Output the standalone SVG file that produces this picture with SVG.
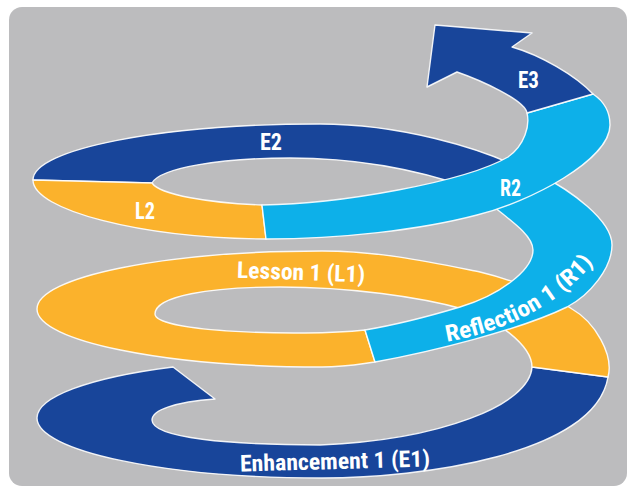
<svg xmlns="http://www.w3.org/2000/svg" width="635" height="495" viewBox="0 0 635 495">
<style>
.band{stroke:#ffffff;stroke-width:1.4;stroke-linejoin:round;stroke-opacity:0.9}
.e{fill:#18459a}
.l{fill:#fbb22c}
.r{fill:#0db0e9}
.t{font-family:'Liberation Sans Narrow','Roboto Condensed','Roboto','DejaVu Sans Condensed','Liberation Sans',sans-serif;font-stretch:condensed;font-weight:bold;fill:#ffffff;font-size:23px}
</style>
<defs>
<path id="r1path" d="M445,342 Q545,325 600,255"/>
</defs>
<rect x="0" y="0" width="635" height="495" fill="#ffffff"/>
<rect x="9" y="7" width="618" height="479" rx="13" fill="#bcbcbe"/>
<g id="E1">
<path class="band e" d="M173,367 C88.4,377.7 37,397.1 37,418 C37,451 164.6,478 322,478 C420,478 595,455 608,377 L532,367 C530,405 440,440 320,445 C230,445 152,438 152,420 C152,410 175,402 215,399 Z"/>
</g>
<g id="L1">
<path class="band l" d="M608,377 C614,355 595,322 572,309 C550,293 505,278 480,272 C430,262 380,251 322,251 C164.6,251 37,277 37,309 C37,341 164.6,367 322,367 C345,367 360,364 375,362 L365,330 C300,337 155,332 155,314 C155,296 210,287 280,287 C350,287 420,297 463,309 C495,318 532,345 532,367 Z"/>
</g>
<g id="R1">
<path class="band r" d="M375,362 C430,352 520,330 567,307 C590,295 612,268 612,245 C612,220 570,190 540,175 L485,200 C510,220 533,235 533,250 C533,270 500,295 460,307 C430,316 395,325 365,330 Z"/>
</g>
<g id="E2">
<path class="band e" d="M520,168 C480,148 400,124 320,124 C161.5,124 33,149 33,180 L152,183 C160,168 220,158 290,158 C370,158 430,174 470,188 Z"/>
</g>
<g id="L2">
<path class="band l" d="M33,180 C33,210 140,238 266,239 L262,205 C210,203 160,195 152,183 Z"/>
</g>
<g id="R2">
<path class="band r" d="M266,239 C340,239 420,230 477,215 C530,202 610,160 610,125 C610,110 602,100 593,94 L527,113 C530,125 525,145 508,157 C465,182 340,204 262,205 Z"/>
</g>
<g id="E3">
<path class="band e" d="M593,94 C575,75 540,55 512,47 L532,33 L435,25 L427,87 L457,72 C480,80 525,100 527,113 Z"/>
</g>
<g id="labels">
<text class="t" x="518" y="88" textLength="21" lengthAdjust="spacingAndGlyphs">E3</text>
<text class="t" x="260" y="150" textLength="22" lengthAdjust="spacingAndGlyphs">E2</text>
<text class="t" x="135" y="219" textLength="20" lengthAdjust="spacingAndGlyphs">L2</text>
<text class="t" x="500" y="196" textLength="21" lengthAdjust="spacingAndGlyphs">R2</text>
<text class="t" x="237" y="280" textLength="128" lengthAdjust="spacingAndGlyphs" transform="rotate(2 301 275)">Lesson 1 (L1)</text>
<text class="t" x="240" y="469" font-size="24" textLength="190" lengthAdjust="spacingAndGlyphs" transform="rotate(-1.5 335 462)">Enhancement 1 (E1)</text>
<text class="t"><textPath href="#r1path" startOffset="2" textLength="170" lengthAdjust="spacingAndGlyphs">Reflection 1 (R1)</textPath></text>
</g>
</svg>
